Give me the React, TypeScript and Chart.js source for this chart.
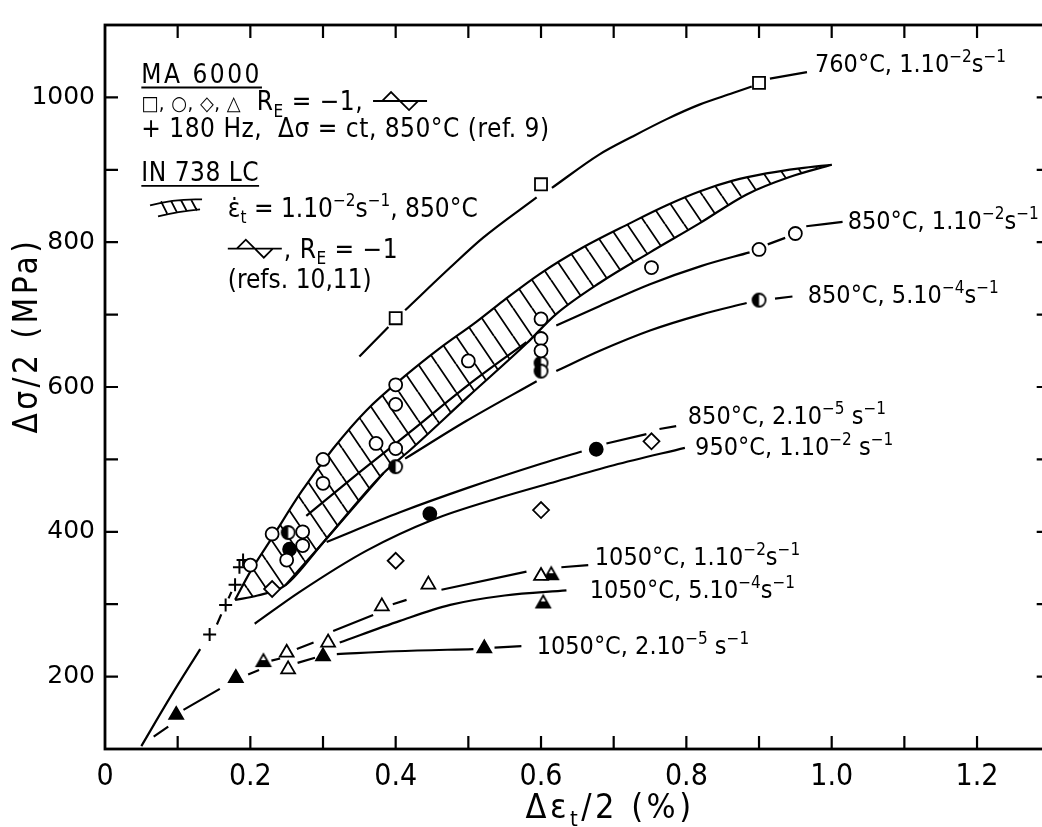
import React, { useEffect, useRef } from "react";
import { Chart, registerables } from "chart.js";

Chart.register(...registerables);

type Pt = [number, number] | null;
type Part = [string, "" | "sup" | "sub" | "small"];

// ---------- axes ----------
const X_MIN = 0;
const X_MAX = 1.3;
const Y_MIN = 100;
const Y_MAX = 1100;
const X_LABEL_VALUES = [0, 0.2, 0.4, 0.6, 0.8, 1.0, 1.2];
const X_LABELS = ["0", "0.2", "0.4", "0.6", "0.8", "1.0", "1.2"];
const Y_LABEL_VALUES = [200, 400, 600, 800, 1000];
const X_TICK_MARKS = [0.1, 0.2, 0.3, 0.4, 0.5, 0.6, 0.7, 0.8, 0.9, 1.0, 1.1, 1.2];
const Y_TICK_MARKS = [200, 300, 400, 500, 600, 700, 800, 900, 1000];
const Y_TITLE: Part[] = [["Δσ/2 (MPa)", ""]];
const X_TITLE: Part[] = [["Δε", ""], ["t", "sub"], ["/2 (%)", ""]];
const Y_TITLE_AT = 671; // MPa, centre of rotated title
const X_TITLE_AT = 0.695; // strain, centre of title

// ---------- curves (null = gap) ----------
const PLUS_CURVE: Pt[] = [[0.05, 104], [0.09, 172], [0.131, 238], null, [0.154, 272], [0.16, 286], null, [0.17, 308], [0.174, 317]];
const CURVE_760: Pt[] = [[0.35, 642], [0.39, 683], null, [0.413, 706], [0.475, 765], [0.52, 806], [0.594, 862], null, [0.615, 875], [0.68, 921], [0.726, 946], [0.773, 970], [0.818, 990], [0.864, 1006], [0.89, 1015], null, [0.915, 1026], [0.966, 1035]];
const BAND_UPPER: Pt[] = [[0.179, 306], [0.2, 345], [0.23, 392], [0.27, 455], [0.314, 515], [0.36, 568], [0.415, 617], [0.46, 653], [0.511, 690], [0.548, 719], [0.598, 756], [0.658, 793], [0.722, 826], [0.773, 851], [0.818, 870], [0.864, 885], [0.91, 895], [0.956, 902], [1.0, 907]];
const BAND_LOWER: Pt[] = [[0.179, 306], [0.21, 312], [0.248, 326], [0.3, 385], [0.383, 481], [0.42, 513], [0.5, 587], [0.58, 660], [0.62, 700], [0.681, 744], [0.75, 786], [0.818, 826], [0.883, 866], [0.942, 890], [1.0, 907]];
const CURVE_850_FAST: Pt[] = [[0.277, 422], [0.35, 482], [0.42, 538], [0.5, 603], [0.58, 662], null, [0.621, 685], [0.681, 712], [0.75, 742], [0.82, 767], [0.887, 786], null, [0.912, 797], [0.936, 806], null, [0.965, 822], [1.015, 828]];
const CURVE_850_MID: Pt[] = [[0.248, 326], [0.3, 385], [0.383, 481], null, [0.413, 501], [0.497, 553], [0.594, 608], null, [0.621, 622], [0.681, 650], [0.75, 678], [0.82, 700], [0.883, 716], null, [0.922, 722], [0.946, 725]];
const CURVE_850_SLOW: Pt[] = [[0.305, 386], [0.406, 427], [0.5, 461], [0.6, 494], [0.656, 511], null, [0.69, 522], [0.745, 535], null, [0.763, 542], [0.786, 546]];
const CURVE_950: Pt[] = [[0.206, 273], [0.268, 317], [0.36, 374], [0.452, 417], [0.543, 447], [0.612, 467], [0.7, 492], [0.798, 516]];
const CURVE_1050_FAST: Pt[] = [[0.229, 222], [0.241, 225], null, [0.264, 238], [0.287, 247], null, [0.314, 263], [0.369, 285], null, [0.396, 300], [0.415, 306], null, [0.463, 320], [0.58, 345], null, [0.628, 351], [0.665, 354]];
const CURVE_1050_MID: Pt[] = [[0.265, 219], [0.289, 226], null, [0.323, 247], [0.406, 277], [0.475, 299], [0.55, 312], [0.635, 319]];
const CURVE_1050_SLOW: Pt[] = [[0.067, 117], [0.087, 131], null, [0.108, 154], [0.158, 183], null, [0.197, 203], [0.212, 209], null, [0.319, 231], [0.4, 235], [0.507, 238], null, [0.536, 240], [0.573, 242]];

// ---------- markers ----------
const SQUARES: Pt[] = [[0.4, 695], [0.6, 880], [0.9, 1020]];
const CIRCLES_OPEN: Pt[] = [[0.2, 354], [0.23, 397], [0.25, 361], [0.272, 400], [0.272, 381], [0.3, 500], [0.3, 467], [0.373, 522], [0.4, 603], [0.4, 576], [0.4, 515], [0.5, 636], [0.6, 694], [0.6, 667], [0.6, 650], [0.752, 765], [0.9, 790], [0.95, 812]];
const CIRCLES_HALF: Pt[] = [[0.252, 399], [0.4, 490], [0.6, 633], [0.6, 622], [0.9, 720]];
const CIRCLES_FILLED: Pt[] = [[0.254, 376], [0.447, 425], [0.676, 514]];
const DIAMONDS: Pt[] = [[0.23, 321], [0.4, 360], [0.6, 430], [0.752, 525]];
const TRI_OPEN: Pt[] = [[0.25, 233], [0.252, 210], [0.307, 247], [0.381, 297], [0.445, 327], [0.6, 339]];
const TRI_HALF: Pt[] = [[0.218, 220], [0.614, 340], [0.603, 301]];
const TRI_FILLED: Pt[] = [[0.098, 147], [0.18, 198], [0.3, 228], [0.522, 239]];
const CROSSES: Pt[] = [[0.144, 258], [0.166, 299], [0.179, 327], [0.185, 351], [0.19, 361]];

// ---------- curve labels ----------
const CURVE_LABEL_POS: [number, number][] = [[0.977, 1048], [1.022, 831], [0.967, 729], [0.802, 561], [0.812, 518], [0.674, 366], [0.667, 321], [0.594, 243]];
const CURVE_LABEL_TEXT: Part[][] = [
  [["760°C, 1.10", ""], ["−2", "sup"], ["s", ""], ["−1", "sup"]],
  [["850°C, 1.10", ""], ["−2", "sup"], ["s", ""], ["−1", "sup"]],
  [["850°C, 5.10", ""], ["−4", "sup"], ["s", ""], ["−1", "sup"]],
  [["850°C, 2.10", ""], ["−5", "sup"], [" s", ""], ["−1", "sup"]],
  [["950°C, 1.10", ""], ["−2", "sup"], [" s", ""], ["−1", "sup"]],
  [["1050°C, 1.10", ""], ["−2", "sup"], ["s", ""], ["−1", "sup"]],
  [["1050°C, 5.10", ""], ["−4", "sup"], ["s", ""], ["−1", "sup"]],
  [["1050°C, 2.10", ""], ["−5", "sup"], [" s", ""], ["−1", "sup"]],
];

// ---------- key (upper left) ----------
const KEY_POS: [number, number][] = [[0.05, 1033], [0.05, 995], [0.05, 958], [0.05, 897], [0.169, 848], [0.169, 791], [0.169, 749]];
const KEY_TEXT: Part[][] = [
  [["MA 6000", ""]],
  [["□, ○, ◇, △", "small"], ["  R", ""], ["E", "sub"], [" = −1, ", ""]],
  [["+ 180 Hz,  Δσ = ct, 850°C (ref. 9)", ""]],
  [["IN 738 LC", ""]],
  [["ε̇", ""], ["t", "sub"], [" = 1.10", ""], ["−2", "sup"], ["s", ""], ["−1", "sup"], [", 850°C", ""]],
  [[", R", ""], ["E", "sub"], [" = −1", ""]],
  [["(refs. 10,11)", ""]],
];
const KEY_SPACING = [2.5, 0.5, 0.5, 0.5, 0, 0.5, 0];
const KEY_UNDERLINED = [0, 3];
const KEY_WAVE_AFTER = [1];
const KEY_WAVE_BEFORE = [5];
const KEY_HATCH_ICON: [number, number] = [0.062, 848];

const TXT_FONT = '"DejaVu Sans Condensed", "DejaVu Sans", sans-serif';
const NARROW_FONT = '"Liberation Sans Narrow", "DejaVu Sans Condensed", sans-serif';
const WIDE_FONT = '"DejaVu Sans", sans-serif';
const LABEL_SIZE = 25;
const KEY_SIZE = 26;
const TICK_LEN = 13;

const toXY = (arr: Pt[]) => {
  const out: { x: number; y: number | null }[] = [];
  arr.forEach((p, i) => {
    if (p) out.push({ x: p[0], y: p[1] });
    else {
      const prev = arr[i - 1] as [number, number];
      const next = arr[i + 1] as [number, number];
      out.push({ x: (prev[0] + next[0]) / 2, y: null });
    }
  });
  return out;
};

const partSize = (k: string, size: number) => (k === "sup" || k === "sub" ? Math.round(size * 0.66) : k === "small" ? Math.round(size * 0.75) : size);

function richWidth(ctx: CanvasRenderingContext2D, parts: Part[], size: number, family: string, ls = 0) {
  let w = 0;
  (ctx as any).letterSpacing = `${ls}px`;
  for (const [t, k] of parts) {
    ctx.font = `${partSize(k, size)}px ${family}`;
    w += ctx.measureText(t).width;
  }
  (ctx as any).letterSpacing = "0px";
  return w;
}

// y is the visual centre of the capitals
function drawRich(ctx: CanvasRenderingContext2D, x: number, y: number, parts: Part[], size: number, family: string, ls = 0) {
  let cx = x;
  ctx.textAlign = "left";
  ctx.textBaseline = "alphabetic";
  (ctx as any).letterSpacing = `${ls}px`;
  const base = y + size * 0.36;
  for (const [t, k] of parts) {
    ctx.font = `${partSize(k, size)}px ${family}`;
    const dy = k === "sup" ? -size * 0.4 : k === "sub" ? size * 0.24 : 0;
    ctx.fillText(t, cx, base + dy);
    cx += ctx.measureText(t).width;
  }
  (ctx as any).letterSpacing = "0px";
  return cx;
}

function drawWave(ctx: CanvasRenderingContext2D, x: number, y: number) {
  ctx.beginPath();
  ctx.moveTo(x, y);
  ctx.lineTo(x + 54, y);
  ctx.moveTo(x + 9, y);
  ctx.lineTo(x + 18, y - 9);
  ctx.lineTo(x + 27, y);
  ctx.lineTo(x + 36, y + 9);
  ctx.lineTo(x + 45, y);
  ctx.stroke();
}

function drawHatchIcon(ctx: CanvasRenderingContext2D, x: number, y: number) {
  ctx.beginPath();
  ctx.moveTo(x, y - 2);
  ctx.quadraticCurveTo(x + 25, y - 9, x + 52, y - 8);
  ctx.moveTo(x + 8, y + 9);
  ctx.quadraticCurveTo(x + 28, y + 4, x + 50, y + 2);
  for (let i = 0; i < 4; i++) {
    const bx = x + 15 + i * 10;
    ctx.moveTo(bx - 4, y - 6 - i * 0.6);
    ctx.lineTo(bx + 2, y + 6 - i * 0.9);
  }
  ctx.stroke();
}

function makeHatch(): CanvasPattern | string {
  const w = 19, h = 28;
  const c = document.createElement("canvas");
  c.width = w;
  c.height = h;
  const g = c.getContext("2d");
  if (!g) return "rgba(0,0,0,0.2)";
  g.strokeStyle = "#000";
  g.lineWidth = 1.8;
  g.beginPath();
  for (const dx of [-w, 0, w]) {
    g.moveTo(dx, 0);
    g.lineTo(dx + w, h);
  }
  g.stroke();
  return g.createPattern(c, "repeat") || "rgba(0,0,0,0.2)";
}

function halfCircle(r: number) {
  const s = Math.ceil(2 * r + 4);
  const c = document.createElement("canvas");
  c.width = s;
  c.height = s;
  const g = c.getContext("2d")!;
  const m = s / 2;
  g.beginPath();
  g.arc(m, m, r, 0, Math.PI * 2);
  g.fillStyle = "#fff";
  g.fill();
  g.beginPath();
  g.moveTo(m, m);
  g.arc(m, m, r, Math.PI / 2, (Math.PI * 3) / 2);
  g.closePath();
  g.fillStyle = "#000";
  g.fill();
  g.beginPath();
  g.arc(m, m, r, 0, Math.PI * 2);
  g.lineWidth = 1.8;
  g.strokeStyle = "#000";
  g.stroke();
  return c;
}

function halfTriangle(r: number) {
  const s = Math.ceil(2 * r + 4);
  const c = document.createElement("canvas");
  c.width = s;
  c.height = s;
  const g = c.getContext("2d")!;
  const m = s / 2;
  const hx = r * 0.866;
  const tri = () => {
    g.beginPath();
    g.moveTo(m, m - r);
    g.lineTo(m + hx, m + r / 2);
    g.lineTo(m - hx, m + r / 2);
    g.closePath();
  };
  tri();
  g.fillStyle = "#fff";
  g.fill();
  const yc = m - r / 4;
  const wc = hx * ((yc - (m - r)) / (1.5 * r));
  g.beginPath();
  g.moveTo(m - wc, yc);
  g.lineTo(m + wc, yc);
  g.lineTo(m + hx, m + r / 2);
  g.lineTo(m - hx, m + r / 2);
  g.closePath();
  g.fillStyle = "#000";
  g.fill();
  tri();
  g.lineWidth = 1.8;
  g.strokeStyle = "#000";
  g.stroke();
  return c;
}

const decor = {
  id: "decor",
  afterDraw(chart: any) {
    const { ctx, chartArea: a, scales } = chart;
    const xs = scales.x;
    const ys = scales.y;
    const px = (v: number) => xs.getPixelForValue(v);
    const py = (v: number) => ys.getPixelForValue(v);
    ctx.save();
    ctx.strokeStyle = "#000";
    ctx.fillStyle = "#000";
    ctx.lineCap = "butt";
    // frame
    ctx.lineWidth = 2.8;
    ctx.strokeRect(a.left, a.top, a.right - a.left, a.bottom - a.top);
    // inward ticks
    ctx.lineWidth = 2.2;
    ctx.beginPath();
    for (const v of X_TICK_MARKS) {
      const x = px(v);
      ctx.moveTo(x, a.bottom);
      ctx.lineTo(x, a.bottom - TICK_LEN);
      ctx.moveTo(x, a.top);
      ctx.lineTo(x, a.top + TICK_LEN);
    }
    for (const v of Y_TICK_MARKS) {
      const y = py(v);
      ctx.moveTo(a.left, y);
      ctx.lineTo(a.left + TICK_LEN, y);
      ctx.moveTo(a.right, y);
      ctx.lineTo(a.right - TICK_LEN, y);
    }
    ctx.stroke();

    // axis titles
    ctx.save();
    ctx.translate(a.left - 80, py(Y_TITLE_AT));
    ctx.rotate(-Math.PI / 2);
    const yw = richWidth(ctx, Y_TITLE, 33, TXT_FONT, 3.5);
    drawRich(ctx, -yw / 2, 0, Y_TITLE, 33, TXT_FONT, 3.5);
    ctx.restore();
    const xw = richWidth(ctx, X_TITLE, 34, TXT_FONT, 3.5);
    drawRich(ctx, px(X_TITLE_AT) - xw / 2, a.bottom + 57, X_TITLE, 34, TXT_FONT, 3.5);

    // curve labels
    CURVE_LABEL_TEXT.forEach((parts, i) => {
      const [vx, vy] = CURVE_LABEL_POS[i];
      drawRich(ctx, px(vx), py(vy), parts, LABEL_SIZE, TXT_FONT);
    });

    // key
    ctx.lineWidth = 1.8;
    KEY_TEXT.forEach((parts, i) => {
      const [vx, vy] = KEY_POS[i];
      let x = px(vx);
      const y = py(vy);
      if (KEY_WAVE_BEFORE.includes(i)) {
        drawWave(ctx, x, y);
        x += 56;
      }
      const end = drawRich(ctx, x, y, parts, KEY_SIZE, TXT_FONT, KEY_SPACING[i]);
      if (KEY_UNDERLINED.includes(i)) {
        ctx.beginPath();
        ctx.moveTo(x, y + 14);
        ctx.lineTo(end, y + 14);
        ctx.stroke();
      }
      if (KEY_WAVE_AFTER.includes(i)) drawWave(ctx, end + 2, y);
    });
    drawHatchIcon(ctx, px(KEY_HATCH_ICON[0]), py(KEY_HATCH_ICON[1]));
    ctx.restore();
  },
};

export default function App() {
  const ref = useRef<HTMLCanvasElement | null>(null);

  useEffect(() => {
    if (!ref.current) return;
    const hatch = makeHatch();
    const halfC = halfCircle(6.5);
    const halfT = halfTriangle(8);

    const line = (data: Pt[], extra: any = {}) => ({
      data: toXY(data),
      showLine: true,
      borderColor: "#000",
      borderWidth: 2.2,
      pointRadius: 0,
      pointHoverRadius: 0,
      fill: false,
      spanGaps: false,
      cubicInterpolationMode: "monotone",
      order: 2,
      ...extra,
    });
    const marks = (data: Pt[], style: any, radius: number, bg: string, extra: any = {}) => ({
      data: toXY(data),
      showLine: false,
      pointStyle: style,
      pointRadius: radius,
      pointHoverRadius: radius,
      pointBackgroundColor: bg,
      pointBorderColor: "#000",
      pointBorderWidth: 1.8,
      order: 0,
      ...extra,
    });

    const chart = new Chart(ref.current, {
      type: "line",
      data: {
        datasets: [
          line(BAND_UPPER, { fill: "+1", backgroundColor: hatch, order: 3 }),
          line(BAND_LOWER, { order: 3 }),
          line(PLUS_CURVE),
          line(CURVE_760),
          line(CURVE_850_FAST),
          line(CURVE_850_MID),
          line(CURVE_850_SLOW),
          line(CURVE_950),
          line(CURVE_1050_FAST),
          line(CURVE_1050_MID),
          line(CURVE_1050_SLOW),
          marks(SQUARES, "rect", 8.5, "#fff"),
          marks(CIRCLES_OPEN, "circle", 6.5, "#fff"),
          marks(CIRCLES_HALF, halfC, 6.5, "#fff"),
          marks(CIRCLES_FILLED, "circle", 6.5, "#000"),
          marks(DIAMONDS, "rectRot", 8, "#fff"),
          marks(TRI_OPEN, "triangle", 8, "#fff"),
          marks(TRI_HALF, halfT, 8, "#fff"),
          marks(TRI_FILLED, "triangle", 8, "#000"),
          marks(CROSSES, "cross", 6.5, "#000", { pointBorderWidth: 2 }),
        ] as any,
      },
      options: {
        animation: false,
        responsive: false,
        devicePixelRatio: 1,
        layout: { padding: { left: 0, right: 10, top: 15, bottom: 0 } },
        plugins: {
          legend: { display: false },
          tooltip: { enabled: false },
          title: { display: false },
        },
        scales: {
          x: {
            type: "linear",
            min: X_MIN,
            max: X_MAX,
            grid: { display: false, drawTicks: false },
            border: { display: false },
            afterFit: (s: any) => {
              s.height = 78;
            },
            afterBuildTicks: (s: any) => {
              s.ticks = X_LABEL_VALUES.map((v) => ({ value: v }));
            },
            ticks: {
              autoSkip: false,
              maxRotation: 0,
              padding: 10,
              color: "#000",
              font: { family: NARROW_FONT, size: 30 },
              callback: (v: any) => {
                const i = X_LABEL_VALUES.findIndex((t) => Math.abs(t - v) < 1e-6);
                return i >= 0 ? X_LABELS[i] : "";
              },
            },
          },
          y: {
            type: "linear",
            min: Y_MIN,
            max: Y_MAX,
            grid: { display: false, drawTicks: false },
            border: { display: false },
            afterFit: (s: any) => {
              s.width = 105;
            },
            afterBuildTicks: (s: any) => {
              s.ticks = Y_LABEL_VALUES.map((v) => ({ value: v }));
            },
            ticks: {
              autoSkip: false,
              padding: 10,
              color: "#000",
              font: { family: WIDE_FONT, size: 25 },
              callback: (v: any) => String(v),
            },
          },
        },
      } as any,
      plugins: [decor],
    });
    return () => chart.destroy();
  }, []);

  return (
    <div
      style={{
        position: "fixed",
        left: 0,
        top: 0,
        width: 1042,
        height: 827,
        overflow: "hidden",
        background: "#fff",
      }}
    >
      <canvas ref={ref} width={1060} height={827} style={{ display: "block", width: 1060, height: 827 }} />
    </div>
  );
}
